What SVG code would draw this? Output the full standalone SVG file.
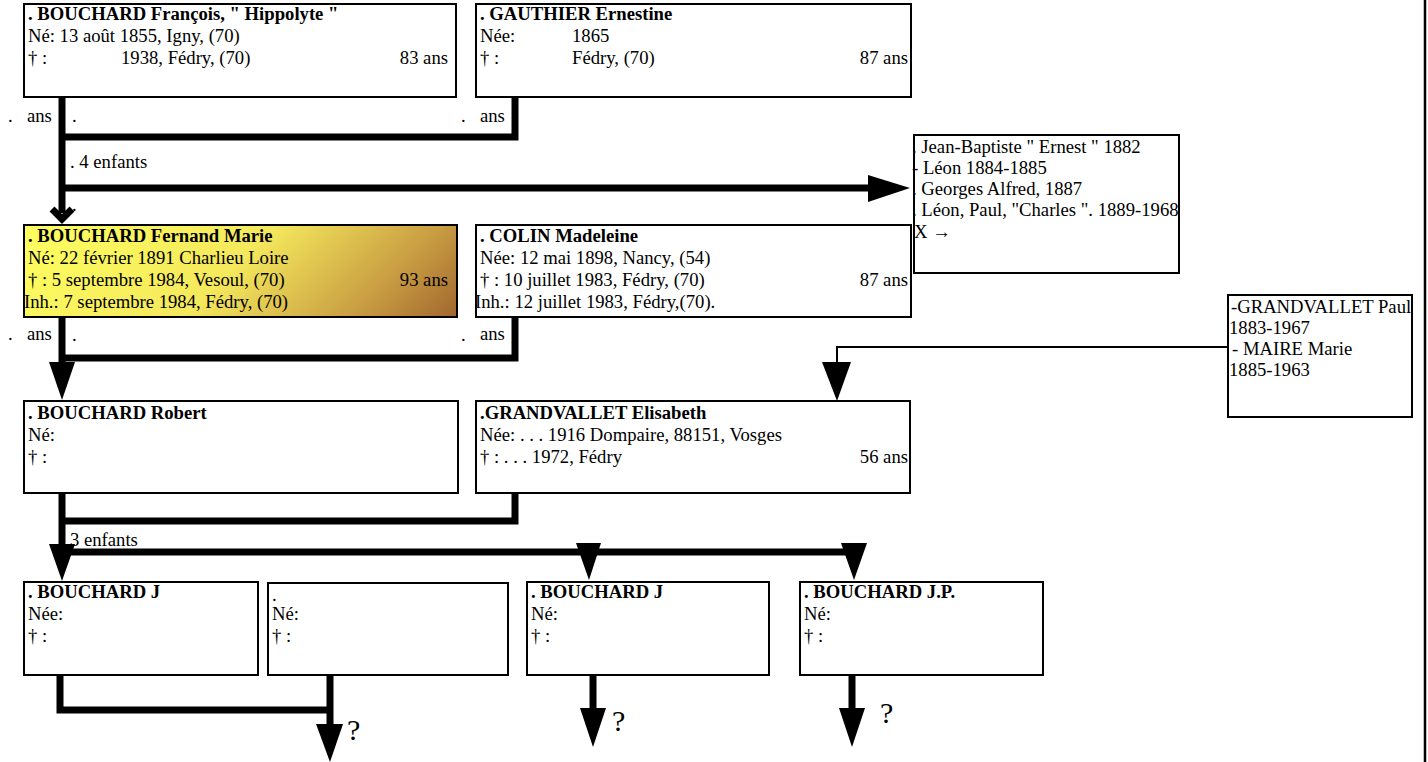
<svg xmlns="http://www.w3.org/2000/svg" width="1428" height="762" viewBox="0 0 1428 762">
<defs>
<linearGradient id="gold" gradientUnits="userSpaceOnUse" x1="24" y1="225" x2="287" y2="488">
<stop offset="0" stop-color="#ffff60"/>
<stop offset="0.48" stop-color="#f4e85c"/>
<stop offset="0.8" stop-color="#c89c42"/>
<stop offset="1" stop-color="#a0662e"/>
</linearGradient>
<style>
text{font-family:"Liberation Serif","Times New Roman",serif;font-size:18.67px;fill:#000}
.b{font-weight:bold}
.box{fill:#fff;stroke:#000;stroke-width:2}
.thick{fill:none;stroke:#000;stroke-width:7;stroke-linecap:butt;stroke-linejoin:miter}
.thin{fill:none;stroke:#000;stroke-width:2}
.head{fill:#000;stroke:none}
.q{font-size:30px}
</style>
</defs>
<rect x="0" y="0" width="1428" height="762" fill="#fff"/>
<line x1="1425" y1="0" x2="1425" y2="762" stroke="#000" stroke-width="2.5"/>

<g id="connectors">
<!-- generation 1 -->
<path class="thick" d="M62,97 V213"/>
<path class="thick" d="M515,97 V137 H62"/>
<path class="thick" d="M62,188 H870"/>
<polygon class="head" points="868,175 910,188 868,202"/>
<path d="M52,209 L62,219 L72,209" fill="none" stroke="#000" stroke-width="7"/>
<!-- generation 2 -->
<path class="thick" d="M62,317 V364"/>
<path class="thick" d="M515,317 V358 H62"/>
<polygon class="head" points="49,362 75,362 62,400"/>
<path class="thin" d="M1228,347 H837 V364"/>
<polygon class="head" points="822,362 851,362 837,401"/>
<!-- generation 3 -->
<path class="thick" d="M62,493 V546"/>
<path class="thick" d="M515,493 V521 H62"/>
<path class="thick" d="M62,552 H858"/>
<polygon class="head" points="49,544 75,544 62,581"/>
<polygon class="head" points="576,543 601,543 589,580"/>
<polygon class="head" points="841,543 867,543 854,580"/>
<!-- generation 4 -->
<path class="thick" d="M60,675 V710 H330"/>
<path class="thick" d="M330,675 V727"/>
<polygon class="head" points="316,724 343,724 330,762"/>
<path class="thick" d="M593,675 V711"/>
<polygon class="head" points="580,708 606,708 593,747"/>
<path class="thick" d="M852,675 V711"/>
<polygon class="head" points="839,708 865,708 852,747"/>
<!-- labels -->
<text x="8" y="122">.</text>
<text x="27" y="122">ans</text>
<text x="72" y="122">.</text>
<text x="461" y="122">.</text>
<text x="480" y="122">ans</text>
<text x="70" y="168">. 4 enfants</text>
<text x="72" y="211">.</text>
<text x="8" y="340">.</text>
<text x="27" y="340">ans</text>
<text x="72" y="341">.</text>
<text x="461" y="341">.</text>
<text x="480" y="340">ans</text>
<text x="70" y="546">3 enfants</text>
<text class="q" x="347" y="740">?</text>
<text class="q" x="612" y="731">?</text>
<text class="q" x="880" y="723">?</text>
</g>

<g id="francois">
<rect class="box" x="24" y="4" width="432" height="93"/>
<text class="b" x="28" y="20">. BOUCHARD François, " Hippolyte "</text>
<text x="28" y="42">Né: 13 août 1855, Igny, (70)</text>
<text x="28" y="64">† :</text>
<text x="121" y="64">1938, Fédry, (70)</text>
<text x="448" y="64" text-anchor="end">83  ans</text>
</g>

<g id="ernestine">
<rect class="box" x="476" y="4" width="435" height="93"/>
<text class="b" x="480" y="20">. GAUTHIER Ernestine</text>
<text x="480" y="42">Née:</text>
<text x="572" y="42">1865</text>
<text x="480" y="64">† :</text>
<text x="572" y="64">Fédry, (70)</text>
<text x="908" y="64" text-anchor="end">87 ans</text>
</g>

<g id="enfants1">
<rect class="box" x="914" y="135" width="265" height="138"/>
<text x="912" y="153">. Jean-Baptiste " Ernest " 1882</text>
<text x="912" y="174">- Léon 1884-1885</text>
<text x="912" y="195">. Georges Alfred, 1887</text>
<text x="912" y="216">. Léon, Paul, "Charles ". 1889-1968</text>
<text x="914" y="238">X →</text>
</g>

<g id="fernand">
<rect x="24" y="225" width="433" height="92" fill="url(#gold)" stroke="#000" stroke-width="2"/>
<text class="b" x="28" y="242">. BOUCHARD Fernand Marie</text>
<text x="28" y="264">Né: 22 février 1891 Charlieu Loire</text>
<text x="28" y="286">† : 5 septembre 1984, Vesoul, (70)</text>
<text x="448" y="286" text-anchor="end">93  ans</text>
<text x="24" y="308">Inh.: 7 septembre 1984, Fédry, (70)</text>
</g>

<g id="madeleine">
<rect class="box" x="476" y="225" width="435" height="92"/>
<text class="b" x="480" y="242">. COLIN Madeleine</text>
<text x="480" y="264">Née: 12 mai 1898, Nancy, (54)</text>
<text x="480" y="286">† : 10 juillet 1983, Fédry, (70)</text>
<text x="908" y="286" text-anchor="end">87 ans</text>
<text x="475" y="308">Inh.: 12 juillet 1983, Fédry,(70).</text>
</g>

<g id="grandvallet-parents">
<rect class="box" x="1228" y="295" width="184" height="122"/>
<text x="1231" y="313">-GRANDVALLET Paul</text>
<text x="1229" y="334">1883-1967</text>
<text x="1232" y="355">- MAIRE Marie</text>
<text x="1229" y="376">1885-1963</text>
</g>

<g id="robert">
<rect class="box" x="24" y="401" width="434" height="92"/>
<text class="b" x="28" y="419">. BOUCHARD Robert</text>
<text x="28" y="441">Né:</text>
<text x="28" y="463">† :</text>
</g>

<g id="elisabeth">
<rect class="box" x="476" y="401" width="434" height="92"/>
<text class="b" x="480" y="419">.GRANDVALLET Elisabeth</text>
<text x="480" y="441">Née:  . . . 1916 Dompaire, 88151, Vosges</text>
<text x="480" y="463">† :  . . . 1972, Fédry</text>
<text x="908" y="463" text-anchor="end">56 ans</text>
</g>

<g id="enfant1">
<rect class="box" x="24" y="582" width="234" height="93"/>
<text class="b" x="28" y="598">. BOUCHARD J</text>
<text x="28" y="620">Née:</text>
<text x="28" y="642">† :</text>
</g>

<g id="enfant2">
<rect class="box" x="268" y="583" width="240" height="92"/>
<text x="272" y="601">.</text>
<text x="272" y="620">Né:</text>
<text x="272" y="642">† :</text>
</g>

<g id="enfant3">
<rect class="box" x="527" y="582" width="242" height="93"/>
<text class="b" x="531" y="598">. BOUCHARD J</text>
<text x="531" y="620">Né:</text>
<text x="531" y="642">† :</text>
</g>

<g id="enfant4">
<rect class="box" x="800" y="582" width="243" height="93"/>
<text class="b" x="804" y="598">. BOUCHARD J.P.</text>
<text x="804" y="620">Né:</text>
<text x="804" y="642">† :</text>
</g>
</svg>
